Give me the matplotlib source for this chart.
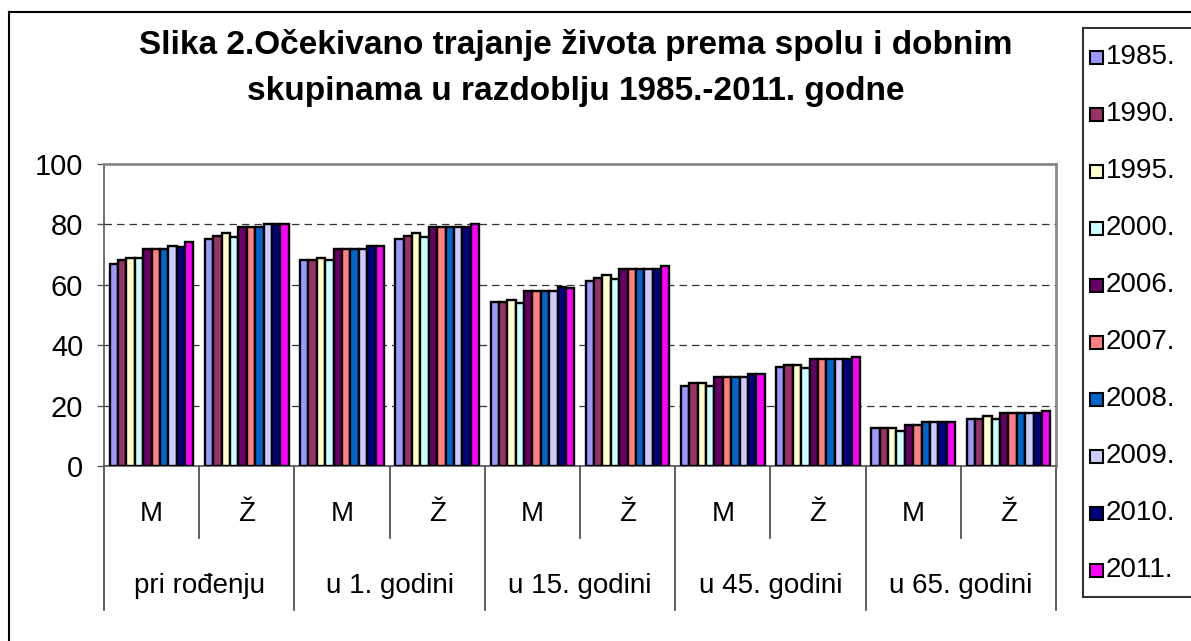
import numpy as np
import matplotlib
matplotlib.use('Agg')
import matplotlib.pyplot as plt
from matplotlib.lines import Line2D
from matplotlib.patches import Rectangle

plt.rcParams['font.family'] = ['Liberation Sans', 'DejaVu Sans']

# data
godine = ['1985.', '1990.', '1995.', '2000.', '2006.', '2007.', '2008.', '2009.', '2010.', '2011.']
spol = ['M', 'Ž', 'M', 'Ž', 'M', 'Ž', 'M', 'Ž', 'M', 'Ž']
dobne_skupine = ['pri rođenju', 'u 1. godini', 'u 15. godini', 'u 45. godini', 'u 65. godini']
boje = ['#9999FF', '#993366', '#FFFFCC', '#CCFFFF', '#660066',
        '#FF8080', '#0066CC', '#CCCCFF', '#000080', '#FF00FF']

# one row per year, one column per category (M/Ž x age group)
v1985 = [67.0, 75.1, 68.2, 75.1, 54.3, 61.1, 26.6, 32.7, 12.6, 15.6]
v1990 = [68.2, 76.1, 68.2, 76.1, 54.3, 62.1, 27.5, 33.6, 12.6, 15.6]
v1995 = [68.9, 77.0, 69.0, 77.0, 55.1, 63.1, 27.5, 33.6, 12.6, 16.5]
v2000 = [68.9, 75.9, 68.2, 75.9, 54.0, 62.0, 26.6, 32.5, 11.7, 15.6]
v2006 = [71.9, 79.0, 71.9, 79.0, 58.1, 65.1, 29.4, 35.5, 13.7, 17.6]
v2007 = [71.9, 79.0, 71.9, 79.0, 58.1, 65.1, 29.4, 35.5, 13.7, 17.6]
v2008 = [71.9, 79.0, 71.9, 79.0, 58.1, 65.1, 29.4, 35.5, 14.7, 17.6]
v2009 = [72.9, 80.0, 71.9, 79.0, 58.1, 65.1, 29.4, 35.5, 14.7, 17.6]
v2010 = [72.6, 80.0, 72.9, 79.0, 59.2, 65.1, 30.5, 35.5, 14.7, 17.6]
v2011 = [74.1, 80.0, 72.9, 80.0, 59.0, 66.1, 30.3, 36.2, 14.7, 18.3]
vrijednosti = [v1985, v1990, v1995, v2000, v2006, v2007, v2008, v2009, v2010, v2011]

W, H = 1191, 641
fig = plt.figure(figsize=(W / 100, H / 100), dpi=100)

# plot area in pixel terms
x0, x1, ytop, ybot = 104, 1056, 164, 466
ax = fig.add_axes([x0 / W, 1 - ybot / H, (x1 - x0) / W, (ybot - ytop) / H])

n = len(godine)
sirina = 0.88 / n
x = np.arange(len(spol)) + 0.5
for i in range(n):
    ax.bar(x - 0.44 + sirina * (i + 0.5), vrijednosti[i], sirina, color=boje[i],
           edgecolor='black', linewidth=1.7, label=godine[i], zorder=3)

ax.set_xlim(0, len(spol))
ax.set_ylim(0, 100)
ax.set_yticks([0, 20, 40, 60, 80, 100])
ax.tick_params(axis='y', labelsize=21, length=5, width=1, pad=10, color='#555555')
ax.set_xticks([])
ax.yaxis.grid(True, linestyle=(0, (6, 4)), color='#333333', linewidth=0.9, zorder=0)

for s in ['top', 'right']:
    ax.spines[s].set_color('#888888')
    ax.spines[s].set_linewidth(2)
for s in ['left', 'bottom']:
    ax.spines[s].set_color('#555555')
    ax.spines[s].set_linewidth(1.2)

# category axis: sex labels, age group labels and separators
tr = ax.get_xaxis_transform()
visina = ybot - ytop
for k, lab in enumerate(spol):
    ax.text(x[k], -(514 - ybot) / visina, lab, transform=tr, ha='center', va='center', fontsize=20)
for g, lab in enumerate(dobne_skupine):
    ax.text(2 * g + 1, -(586 - ybot) / visina, lab, transform=tr, ha='center', va='center', fontsize=20)
for k in range(len(spol) + 1):
    kraj = -(610 - ybot) / visina if k % 2 == 0 else -(538 - ybot) / visina
    ax.plot([k, k], [0, kraj], transform=tr, color='#444444', linewidth=1.2, clip_on=False)

fig.text(576 / W, 1 - 68 / H, 'Slika 2.Očekivano trajanje života prema spolu i dobnim\nskupinama u razdoblju 1985.-2011. godne',
         ha='center', va='center', fontsize=24, fontweight='bold', linespacing=1.6)

# legend box drawn by hand so it can run off the right edge like the original
fig.add_artist(Rectangle((1083 / W, 1 - 597 / H), 0.2, (597 - 28) / H, transform=fig.transFigure,
                         facecolor='white', edgecolor='#333333', linewidth=1.5))
for i in range(n):
    yc = 57 + i * 57
    fig.add_artist(Rectangle((1090 / W, 1 - (yc + 6.5) / H), 13 / W, 13 / H, transform=fig.transFigure,
                             facecolor=boje[i], edgecolor='black', linewidth=1.5))
    fig.text(1106 / W, 1 - yc / H, godine[i], ha='left', va='center', fontsize=20)

# outer chart border
fig.add_artist(Line2D([9 / W, 9 / W], [0, 1 - 12 / H], color='black', linewidth=1.5))
fig.add_artist(Line2D([9 / W, 1], [1 - 12 / H, 1 - 12 / H], color='black', linewidth=1.5))

fig.savefig('out.png', dpi=100)
